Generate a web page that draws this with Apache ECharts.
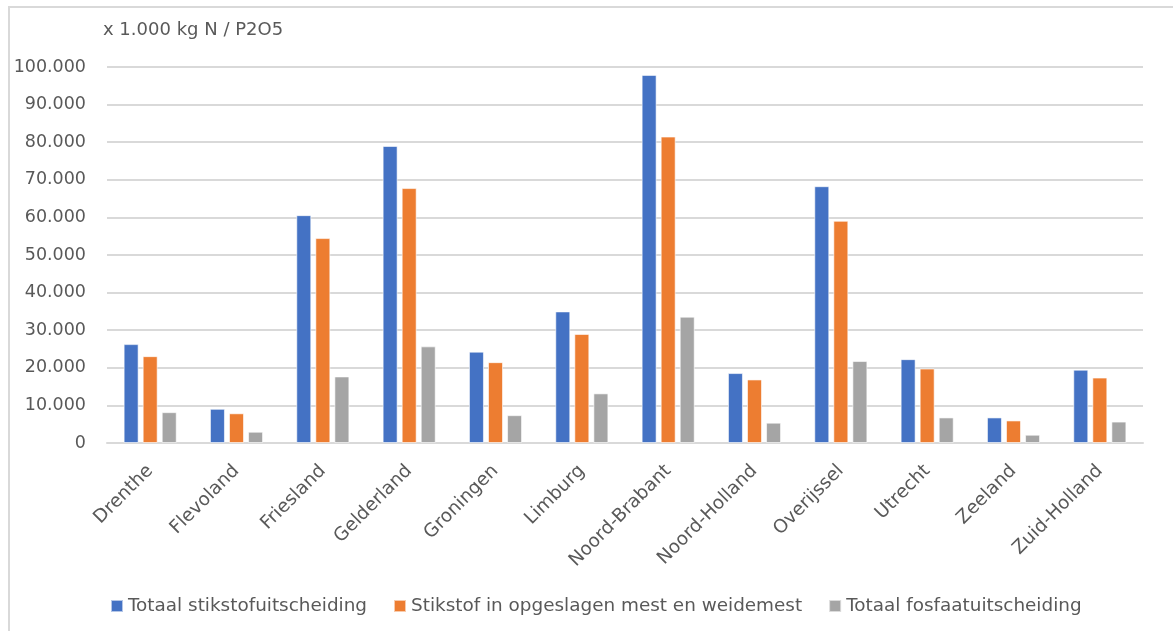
<!DOCTYPE html>
<html><head><meta charset="utf-8">
<script src="https://cdn.jsdelivr.net/npm/echarts@6/dist/echarts.min.js"></script>
<style>
html,body{margin:0;padding:0;background:#fff;overflow:hidden;}
#frame{position:absolute;left:8px;top:6px;width:1180px;height:640px;border-left:2px solid #d9d9d9;border-top:2px solid #d9d9d9;box-sizing:border-box;}
#c{position:absolute;left:0;top:0;width:1173px;height:631px;}
</style></head>
<body>
<div id="frame"></div>
<div id="c"></div>
<script>
const categories = ['Drenthe','Flevoland','Friesland','Gelderland','Groningen','Limburg','Noord-Brabant','Noord-Holland','Overijssel','Utrecht','Zeeland','Zuid-Holland'];
const seriesNames = ['Totaal stikstofuitscheiding','Stikstof in opgeslagen mest en weidemest','Totaal fosfaatuitscheiding'];
const totaalStikstof = [26300, 9100, 60600, 79000, 24300, 35000, 97900, 18600, 68300, 22300, 6800, 19500];
const stikstofMest   = [23100, 7900, 54500, 67800, 21500, 29000, 81500, 16900, 59100, 19800, 6000, 17400];
const totaalFosfaat  = [8200, 3000, 17700, 25700, 7400, 13200, 33600, 5400, 21800, 6800, 2200, 5700];
const unitLabel = 'x 1.000 kg N / P2O5';
const colors = ['#4472c4','#ed7d31','#a5a5a5'];
const font = '"DejaVu Sans", sans-serif';

function fmt(v){ return String(v).replace(/\B(?=(\d{3})+(?!\d))/g,'.'); }

const chart = echarts.init(document.getElementById('c'), null, {renderer:'canvas'});
const data = [totaalStikstof, stikstofMest, totaalFosfaat];
chart.setOption({
  animation:false,
  color: colors,
  textStyle:{fontFamily:font},
  title:{text:unitLabel,left:98,top:16,textStyle:{fontSize:18,fontWeight:'normal',color:'#595959',fontFamily:font}},
  grid:{left:107,right:30,top:67,bottom:188,containLabel:false},
  legend:{
    top:592,left:105,itemWidth:12,itemHeight:12,itemGap:26,icon:'rect',
    textStyle:{fontSize:18.4,color:'#595959',fontFamily:font},
    data:seriesNames
  },
  xAxis:{
    type:'category',data:categories,
    axisLine:{lineStyle:{color:'#d9d9d9',width:2}},
    axisTick:{show:false},
    axisLabel:{rotate:45,fontSize:18.5,color:'#595959',interval:0,margin:25,fontFamily:font}
  },
  yAxis:{
    type:'value',min:0,max:100000,interval:10000,
    axisLine:{show:false},axisTick:{show:false},
    splitLine:{lineStyle:{color:'#d9d9d9',width:2}},
    axisLabel:{fontSize:17.5,color:'#595959',margin:21,formatter:fmt,fontFamily:font}
  },
  series: seriesNames.map((n,i)=>({
    name:n,type:'bar',data:data[i],barWidth:15,barGap:'27%',barCategoryGap:'38%',
    itemStyle:{color:colors[i],borderColor:'rgba(255,255,255,0.6)',borderWidth:1}
  }))
});
</script>
</body></html>
